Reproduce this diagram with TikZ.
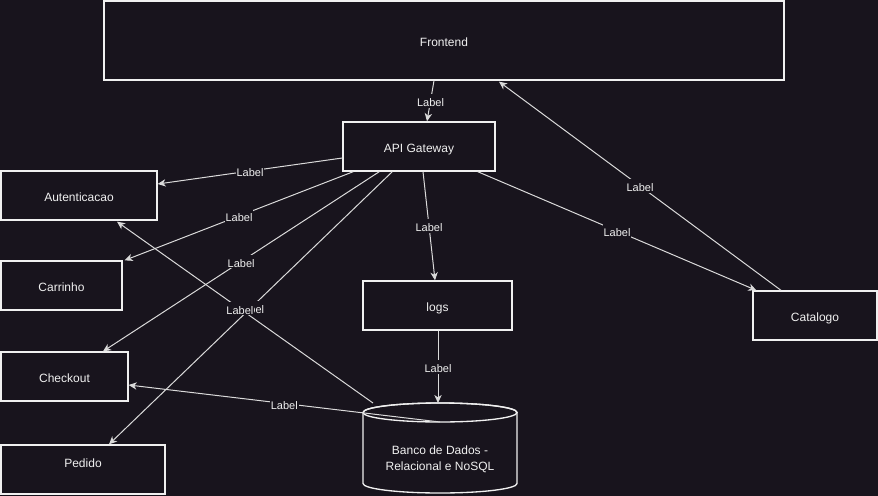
\documentclass[tikz,border=0pt]{standalone}
\usepackage{fontspec}
\setmainfont{Liberation Sans}
\usetikzlibrary{arrows.meta,calc}
\definecolor{bg}{HTML}{18141D}
\definecolor{fg}{HTML}{F0F0F0}
\definecolor{ln}{HTML}{DADADA}
\begin{document}
\begin{tikzpicture}[x=0.75pt,y=-0.75pt,
  box/.style={draw=fg,line width=1pt,fill=bg,text=fg,font=\fontsize{9}{10.8}\selectfont,inner sep=0pt,text height=8.75pt,text depth=0pt},
  conn/.style={draw=ln,line width=0.75pt,-{Stealth[length=6pt,width=5.5pt,inset=1.8pt]}},
  lbl/.style={fill=bg,text=fg,font=\fontsize{8.25}{9.9}\selectfont,inner sep=0.75pt,text height=8.6pt,text depth=0pt}]
\fill[bg] (0,0) rectangle (878,496);
\useasboundingbox (0,0) rectangle (878,496);
% boxes
\node[box,minimum width=510pt,minimum height=59.25pt] (fe) at (444,40.5) {Frontend};
\node[box,minimum width=114pt,minimum height=36.75pt] (api) at (419,146.5) {API Gateway};
\node[box,minimum width=117pt,minimum height=36.75pt] (auth) at (79,195.5) {Autenticacao};
\node[box,minimum width=90.75pt,minimum height=36.75pt] (carr) at (61.5,285.5) {Carrinho};
\node[box,minimum width=95.25pt,minimum height=36.75pt] (chk) at (64.5,376.5) {Checkout};
\node[box,minimum width=123pt,minimum height=36.75pt,text depth=12pt] (ped) at (83,469.5) {Pedido};
\node[box,minimum width=111.75pt,minimum height=36.75pt] (logs) at (437.5,305.5) {logs};
\node[box,minimum width=93pt,minimum height=36.75pt] (cat) at (815,315.5) {Catalogo};
% database cylinder
\filldraw[draw=fg,fill=bg,line width=1pt] (363,412.5) -- (363,483.5)
  arc[start angle=180,end angle=360,x radius=57.75pt,y radius=7.125pt] -- (517,412.5)
  arc[start angle=0,end angle=180,x radius=57.75pt,y radius=7.125pt] -- cycle;
\draw[draw=fg,line width=1pt] (440,412.5) ellipse[x radius=57.75pt,y radius=7.125pt];
\node[text=fg,font=\fontsize{9}{12}\selectfont,align=center,inner sep=0pt] (db) at (440,459) {Banco de Dados -\\Relacional e NoSQL};
% connectors
\draw[conn] ($(fe.south)+(-10,0)$) -- node[lbl]{Label} ($(api.north)+(8,0)$);
\draw[conn] ($(api.west)+(0,11.5)$) -- node[lbl]{Label} ($(auth.east)+(0,-11.5)$);
\draw[conn] ($(api.south west)+(11,0)$) -- node[lbl]{Label} ($(carr.north east)+(2,0)$);
\draw[conn] ($(api.south west)+(37,0)$) -- node[lbl]{Label} ($(chk.north)+(38.5,0)$);
\draw[conn] ($(api.south west)+(50,0)$) -- node[lbl]{Label} ($(ped.north)+(26,0)$);
\draw[conn] ($(api.south)+(4,0)$) -- node[lbl]{Label} ($(logs.north)+(-2.5,0)$);
\draw[conn] ($(api.south east)+(-18,0)$) -- node[lbl]{Label} ($(cat.north west)+(4,0)$);
\draw[conn] ($(cat.north)+(-34,0)$) -- node[lbl]{Label} ($(fe.south)+(55,1)$);
\draw[conn] ($(logs.south)+(0.5,0)$) -- node[lbl]{Label} ($(db.center)+(-2,-56)$);
\draw[conn] ($(db.center)+(0,-37)$) -- node[lbl]{Label} ($(chk.east)+(0,8.5)$);
\draw[conn] ($(db.center)+(-67,-56)$) -- node[lbl,pos=0.52]{Label} ($(auth.south)+(38,1)$);
\end{tikzpicture}
\end{document}
